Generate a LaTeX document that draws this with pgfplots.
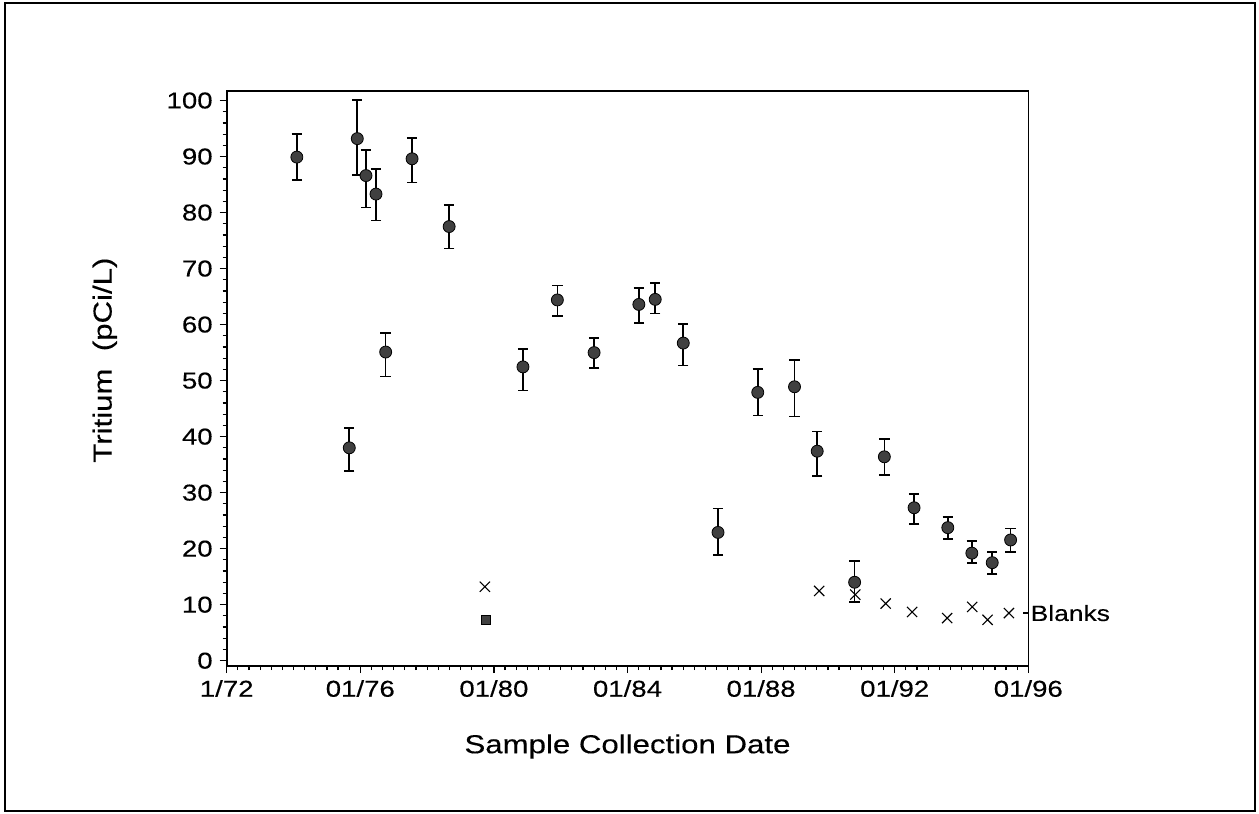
\documentclass[border=0pt]{standalone}
\usepackage{fontspec}
\setmainfont{Liberation Sans}[FakeStretch=1.2, FakeBold=0.25]
\usepackage{pgfplots}
\pgfplotsset{compat=1.18}
\usepackage{pgfplotstable}

% x = years since January 1972
\pgfplotstableread{
x y ep em
2.10 89.9 4.15 4.1
3.67 38.0 3.5 4.1
3.91 93.2 6.9 6.5
4.17 86.6 4.6 5.7
4.47 83.3 4.45 4.7
4.76 55.1 3.4 4.4
5.55 89.6 3.7 4.2
6.66 77.5 3.9 3.9
8.87 52.45 3.15 4.25
9.90 64.4 2.6 2.85
11.00 55.0 2.6 2.8
12.34 63.6 2.95 3.35
12.83 64.5 2.9 2.5
13.67 56.7 3.4 4.0
14.71 22.9 4.3 4.0
15.90 47.9 4.2 4.15
17.00 48.9 4.8 5.3
17.68 37.4 3.5 4.4
18.80 14.0 3.8 3.5
19.69 36.4 3.15 3.3
20.58 27.3 2.5 2.9
21.59 23.75 1.95 2.05
22.31 19.2 2.2 1.8
22.92 17.5 1.9 2.0
23.47 21.55 2.05 2.15
}\tritium

\pgfplotstableread{
x y
7.73 13.2
17.74 12.45
18.82 11.8
19.73 10.2
20.52 8.7
21.57 7.6
22.32 9.6
22.78 7.3
23.42 8.5
}\blanks

\pgfplotstableread{
x y ep em
7.76 7.3 0.6 0.6
}\lowpt

\begin{document}
\begin{tikzpicture}
\useasboundingbox (0pt,0pt) rectangle (629.5pt,-407pt);
\draw[line width=0.7pt] (2.5pt,-1.5pt) rectangle (627.5pt,-405.5pt);
\begin{axis}[
  at={(113.35pt,-333pt)}, anchor=south west,
  scale only axis, width=400.8pt, height=287.5pt,
  xmin=0, xmax=24, ymin=-0.95, ymax=101.7,
  xtick={0,4,...,24},
  xticklabels={1/72,01/76,01/80,01/84,01/88,01/92,01/96},
  ytick={0,10,...,100},
  minor x tick num=11, minor y tick num=4,
  tick align=outside, xtick pos=bottom, ytick pos=left,
  major tick length=3.5pt, minor tick length=2pt,
  axis line style={line width=0.8pt},
  tick style={line width=0.6pt, black},
  tick label style={font=\fontsize{11.5}{13}\selectfont},
  /pgf/number format/assume math mode=true,
  xlabel={Sample Collection Date}, ylabel={Tritium\ \ (pCi/L)},
  label style={font=\fontsize{13}{15}\selectfont},
  xlabel style={at={(axis description cs:0.5,-0.14)}, anchor=center},
  ylabel style={at={(axis description cs:-0.152,0.532)}, anchor=center},
  clip=false,
]
\addplot[only marks, mark=*, mark size=3pt,
  mark options={fill=black!75, draw=black, line width=0.4pt},
  error bars/.cd, y dir=both, y explicit,
  error bar style={line width=0.8pt, black},
  error mark options={rotate=90, mark size=2.6pt, line width=0.8pt, black}]
  table[x=x, y=y, y error plus=ep, y error minus=em] {\tritium};
\addplot[only marks, mark=square*, mark size=2.2pt,
  mark options={fill=black!75, draw=black, line width=0.4pt},
  error bars/.cd, y dir=both, y explicit,
  error bar style={line width=0.8pt, black},
  error mark options={rotate=90, mark size=2pt, line width=0.8pt, black}]
  table[x=x, y=y, y error plus=ep, y error minus=em] {\lowpt};
\addplot[only marks, mark=x, mark size=3.6pt, mark options={line width=0.55pt, black}]
  table[x=x, y=y] {\blanks};
\draw[line width=0.6pt] (axis cs:24,8.5) -- ++(-2.5pt,0pt);
\node[anchor=west, inner sep=1pt, font=\fontsize{11}{13}\selectfont] at (axis cs:24,8.5) {Blanks};
\end{axis}
\end{tikzpicture}
\end{document}
